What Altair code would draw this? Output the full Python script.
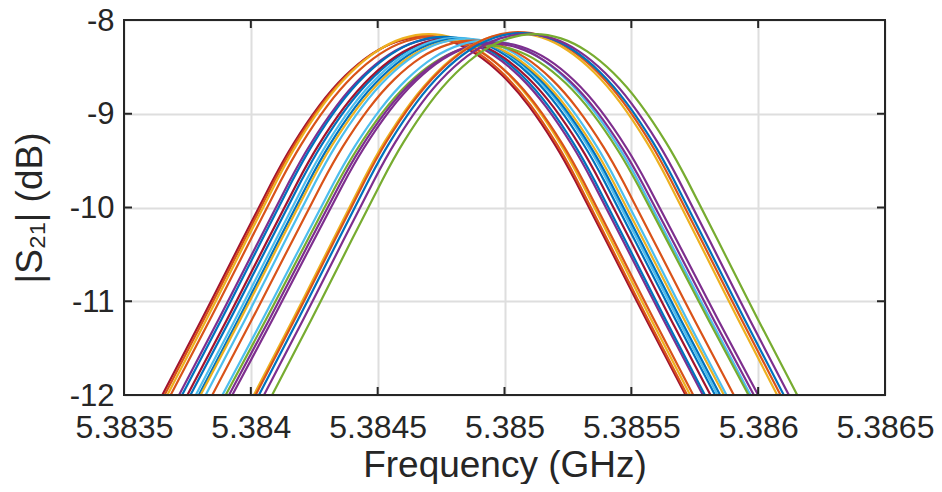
import altair as alt
import pandas as pd

# ---- data ----
curve_ids = [f"c{i:02d}" for i in range(1, 23)]
curve_colors = [
    "#A2142F", "#D95319", "#EDB120", "#D95319", "#7E2F8E", "#0072BD",
    "#0072BD", "#A2142F", "#4DBEEE", "#0072BD", "#EDB120", "#4DBEEE", "#D95319",
    "#4DBEEE", "#77AC30", "#7E2F8E", "#7E2F8E",
    "#EDB120", "#D95319", "#0072BD", "#7E2F8E", "#77AC30",
]
# frequencies (GHz) where each curve crosses -12 dB on the left and right flank
left_cross_ghz = [
    5.383651, 5.383660, 5.383671, 5.383684, 5.383717, 5.383729,
    5.383762, 5.383750, 5.383783, 5.383795, 5.383802, 5.383822, 5.383848,
    5.383888, 5.383901, 5.383914, 5.383927,
    5.384012, 5.384019, 5.384032, 5.384052, 5.384084,
]
right_cross_ghz = [
    5.385714, 5.385720, 5.385732, 5.385744, 5.385782, 5.385790,
    5.385830, 5.385812, 5.385840, 5.385850, 5.385865, 5.385875, 5.385904,
    5.385970, 5.385962, 5.385983, 5.386000,
    5.386075, 5.386088, 5.386101, 5.386121, 5.386154,
]
peak_db = [
    -8.18, -8.17, -8.15, -8.18, -8.19, -8.18,
    -8.19, -8.20, -8.19, -8.20, -8.21, -8.20, -8.22,
    -8.22, -8.27, -8.25, -8.24,
    -8.14, -8.13, -8.14, -8.15, -8.15,
]
# common resonance shape: position across the -12 dB width
# (0 = peak, 1 = -12 dB crossing) and fraction of the drop from peak to -12 dB
profile_pos = [0.0, 0.1, 0.2, 0.3, 0.4, 0.5, 0.58, 0.7, 0.85, 1.0]
profile_drop = [0.0, 0.012, 0.048, 0.108, 0.192, 0.30, 0.404, 0.575, 0.79, 1.0]
floor_db = -12.0

x_ticks = [5.3835, 5.384, 5.3845, 5.385, 5.3855, 5.386, 5.3865]
y_ticks = [-12, -11, -10, -9, -8]

# ---- build tables (both flanks from the same shape) ----
rows = []
for cid, lf, rf, pk in zip(curve_ids, left_cross_ghz, right_cross_ghz, peak_db):
    mid = (lf + rf) / 2
    half = (rf - lf) / 2
    for side in (-1, 1):
        for p, d in zip(profile_pos, profile_drop):
            if side == -1 and p == 0.0:
                continue
            rows.append({"curve": cid, "f": mid + side * p * half,
                         "s21": pk + d * (floor_db - pk)})
df = pd.DataFrame(rows)
xt = pd.DataFrame({"f": x_ticks})
yt = pd.DataFrame({"s21": y_ticks})

W, H = 761, 375
FONT = "Liberation Sans"
TXT = "#262626"

xscale = alt.Scale(domain=[5.3835, 5.3865], nice=False, zero=False)
yscale = alt.Scale(domain=[-12, -8], nice=False, zero=False)

lines = alt.Chart(df).mark_line(strokeWidth=2.2, interpolate="natural", clip=True).encode(
    x=alt.X("f:Q", scale=xscale, axis=alt.Axis(
        values=x_ticks, labelExpr="'' + datum.value", grid=True, gridColor="#dedede",
        gridWidth=2, ticks=False, domain=False, labelFont=FONT, labelFontSize=32,
        labelColor=TXT, labelPadding=17, labelFlush=False, labelOverlap=False,
        title="Frequency (GHz)", titleFont=FONT, titleFontSize=37,
        titleFontWeight="normal", titleColor=TXT, titleY=81,
        titleBaseline="alphabetic")),
    y=alt.Y("s21:Q", scale=yscale, axis=alt.Axis(
        values=y_ticks, labelExpr="'' + datum.value", grid=True, gridColor="#dedede",
        gridWidth=2, ticks=False, domain=False, labelFont=FONT, labelFontSize=31,
        labelColor=TXT, labelPadding=10, labelOffset=1, labelOverlap=False,
        labelFlush=False,
        title="|S₂₁| (dB)", titleFont=FONT, titleFontSize=37,
        titleFontWeight="normal", titleColor=TXT, titleX=-94, titleY=H / 2,
        titleAngle=-90, titleBaseline="middle", titleAlign="center")),
    color=alt.Color("curve:N", scale=alt.Scale(domain=curve_ids, range=curve_colors),
                    legend=None),
)

tick_style = dict(color=TXT, strokeWidth=2)
bottom_ticks = alt.Chart(xt).mark_rule(**tick_style).encode(
    x=alt.X("f:Q", scale=xscale), y=alt.value(H), y2=alt.value(H - 8))
top_ticks = alt.Chart(xt).mark_rule(**tick_style).encode(
    x=alt.X("f:Q", scale=xscale), y=alt.value(0), y2=alt.value(8))
left_ticks = alt.Chart(yt).mark_rule(**tick_style).encode(
    y=alt.Y("s21:Q", scale=yscale), x=alt.value(0), x2=alt.value(8))
right_ticks = alt.Chart(yt).mark_rule(**tick_style).encode(
    y=alt.Y("s21:Q", scale=yscale), x=alt.value(W), x2=alt.value(W - 8))

frame = alt.Chart(xt).mark_rect(filled=False, stroke=TXT, strokeWidth=2).encode(
    x=alt.value(0), x2=alt.value(W), y=alt.value(0), y2=alt.value(H))

chart = alt.layer(lines, bottom_ticks, top_ticks, left_ticks, right_ticks, frame).properties(
    width=W, height=H,
    autosize=alt.AutoSizeParams(type="none"),
    padding={"left": 116, "top": 12, "right": 49, "bottom": 89},
).configure_view(stroke=None).configure(background="white")

chart.save("out.html", embed_options={"renderer": "svg", "actions": False})
